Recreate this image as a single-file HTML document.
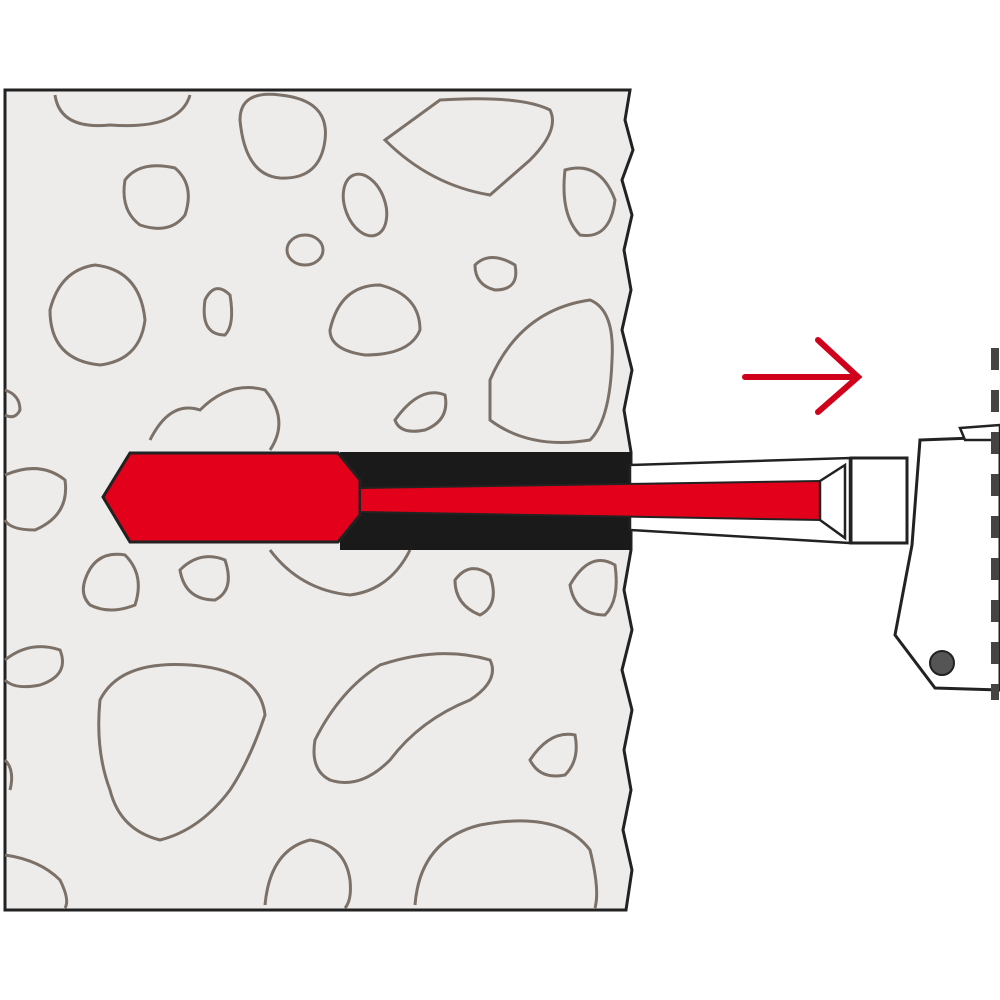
<!DOCTYPE html>
<html><head><style>body{margin:0;background:#fff}svg{display:block}</style></head><body>
<svg width="1000" height="1000" viewBox="0 0 1000 1000">
<path d="M5,90 L630,90 L625,120 L633,150 L622,180 L632,215 L624,250 L631,290 L622,330 L632,370 L624,410 L631,452 L631,550 L624,590 L632,630 L622,670 L632,710 L624,750 L631,790 L623,830 L632,870 L626,910 L5,910 Z" fill="#edecea" stroke="#222" stroke-width="3"/>
<g fill="none" stroke="#7c7168" stroke-width="3">
<path d="M55,95 Q60,130 110,125 Q180,130 190,95"/>
<path d="M240,120 Q240,90 280,95 Q330,100 325,140 Q320,180 280,178 Q245,175 240,120Z"/>
<path d="M385,140 L440,100 Q520,95 550,110 Q560,130 530,160 L490,195 Q430,185 385,140Z"/>
<path d="M125,180 Q140,160 175,168 Q195,185 185,215 Q170,235 140,225 Q120,210 125,180Z"/>
<ellipse cx="365" cy="205" rx="20" ry="32" transform="rotate(-20 365 205)"/>
<ellipse cx="305" cy="250" rx="18" ry="15"/>
<path d="M565,170 Q600,160 615,200 Q610,240 580,235 Q560,215 565,170Z"/>
<path d="M475,265 Q490,250 515,265 Q520,290 495,290 Q475,285 475,265Z"/>
<path d="M50,310 Q60,270 95,265 Q140,270 145,320 Q140,360 100,365 Q50,360 50,310Z"/>
<path d="M205,300 Q215,280 230,295 Q235,325 225,335 Q200,335 205,300Z"/>
<path d="M330,330 Q340,285 380,285 Q420,295 420,330 Q410,355 365,355 Q330,350 330,330Z"/>
<path d="M490,380 Q520,310 590,300 Q615,310 612,360 Q610,420 590,440 Q530,450 490,420 Z"/>
<path d="M5,390 Q20,395 20,410 Q15,420 5,415"/>
<path d="M150,440 Q170,400 200,410 Q230,380 265,390 Q290,420 270,450"/>
<path d="M395,420 Q420,385 445,395 Q450,420 425,430 Q400,435 395,420Z"/>
<path d="M5,475 Q40,460 65,480 Q70,515 35,530 Q10,530 5,520"/>
<path d="M85,580 Q95,550 125,555 Q145,575 135,605 Q110,615 90,605 Q80,595 85,580Z"/>
<path d="M180,570 Q200,550 225,560 Q235,590 215,600 Q185,600 180,570Z"/>
<path d="M270,550 Q300,590 350,595 Q390,590 410,550"/>
<path d="M455,580 Q470,560 490,575 Q500,605 480,615 Q455,605 455,580Z"/>
<path d="M570,585 Q590,550 615,565 Q620,600 605,615 Q575,615 570,585Z"/>
<path d="M5,660 Q30,640 60,650 Q70,675 40,685 Q15,690 5,680"/>
<path d="M100,700 Q120,660 190,665 Q260,670 265,715 Q250,760 230,790 Q200,830 160,840 Q120,830 110,790 Q95,750 100,700Z"/>
<path d="M315,740 Q340,690 380,665 Q440,645 490,660 Q500,680 470,700 Q420,720 390,760 Q360,790 330,780 Q310,770 315,740Z"/>
<path d="M530,760 Q550,730 575,735 Q580,760 565,775 Q540,780 530,760Z"/>
<path d="M5,760 Q15,770 10,790"/>
<path d="M265,905 Q270,850 310,840 Q345,845 350,880 Q352,900 345,908"/>
<path d="M415,905 Q420,840 480,825 Q560,810 590,850 Q600,890 595,908"/>
<path d="M5,855 Q40,860 60,880 Q70,900 65,908"/>
</g>
<rect x="340" y="452" width="291" height="98" fill="#1a1a1a"/>
<polygon points="103,497 130,453 338,453 360,480 360,515 338,542 130,542" fill="#e2001a" stroke="#222" stroke-width="3"/>
<polygon points="630,465 850,458 850,543 630,530" fill="#fff" stroke="#222" stroke-width="2.5"/>
<polygon points="360,488 820,481 820,520 360,512" fill="#e2001a" stroke="#222" stroke-width="2"/>
<polygon points="820,481 845,465 845,538 820,520" fill="#fff" stroke="#222" stroke-width="2.5"/>
<rect x="851" y="458" width="56" height="85" fill="#fff" stroke="#222" stroke-width="3"/>
<polygon points="920,440 1000,437 1000,690 935,688 895,635 912,545 920,440" fill="#fff" stroke="#222" stroke-width="3"/>
<polygon points="960,428 1000,425 1000,440 965,440" fill="#fff" stroke="#222" stroke-width="2.5"/>
<circle cx="942" cy="663" r="12" fill="#555" stroke="#222" stroke-width="2"/>
<line x1="995" y1="348" x2="995" y2="700" stroke="#444" stroke-width="8" stroke-dasharray="22,20"/>
<g stroke="#d0021b" stroke-width="6" fill="none" stroke-linecap="round">
<line x1="745" y1="377" x2="855" y2="377"/>
<polyline points="818,340 858,377 818,412"/>
</g>
</svg>
</body></html>
